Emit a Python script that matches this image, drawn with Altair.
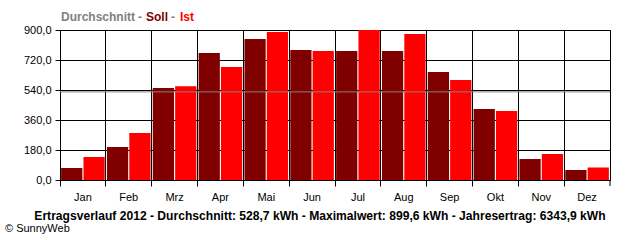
import altair as alt
import pandas as pd

months = ["Jan", "Feb", "Mrz", "Apr", "Mai", "Jun", "Jul", "Aug", "Sep", "Okt", "Nov", "Dez"]
soll = [72, 198, 552, 762, 846, 780, 774, 774, 648, 426, 126, 60]
ist = [138, 282, 563, 678, 888, 774, 899.6, 876, 600, 414, 156, 74.3]
average = 528.7
y_ticks = [0, 180, 360, 540, 720, 900]
series = ["Soll", "Ist"]
series_colors = ["#800000", "#FF0000"]

rows = []
for m, s, i in zip(months, soll, ist):
    rows.append({"Monat": m, "Serie": "Soll", "Wert": s})
    rows.append({"Monat": m, "Serie": "Ist", "Wert": i})
df = pd.DataFrame(rows)

FONT = "Liberation Sans"
W, H = 550, 150

yscale = alt.Scale(domain=[0, 900], nice=False)
yaxis = alt.Axis(title=None, values=y_ticks, grid=True, gridColor="black",
                 gridOpacity=1, tickColor="black", tickSize=5, labelPadding=4,
                 labelOverlap=False, labelBound=False, labelFlush=False,
                 domainColor="black", labelFont=FONT, labelFontSize=11,
                 labelColor="black",
                 labelExpr="replace(format(datum.value, '.1f'), '.', ',')")

bars = alt.Chart(df).mark_bar().encode(
    x=alt.X("Monat:N", sort=months,
            scale=alt.Scale(paddingInner=0, paddingOuter=0),
            axis=alt.Axis(title=None, bandPosition=0, grid=True, gridColor="black",
                          gridOpacity=1, tickColor="black", tickSize=6, labelPadding=5,
                          domainColor="black", labelAngle=0, labelFont=FONT,
                          labelFontSize=11, labelColor="black")),
    xOffset=alt.XOffset("Serie:N", sort=series,
                        scale=alt.Scale(paddingInner=0.05, paddingOuter=0.05)),
    y=alt.Y("Wert:Q", scale=yscale, axis=yaxis),
    color=alt.Color("Serie:N", sort=series,
                    scale=alt.Scale(domain=series, range=series_colors), legend=None),
)

avg_rule = alt.Chart(pd.DataFrame({"avg": [average]})).mark_rule(
    color="#808080", strokeWidth=1).encode(y=alt.Y("avg:Q", scale=yscale, axis=yaxis))

right_tick = alt.Chart(pd.DataFrame({"v": [0]})).mark_rule(color="black").encode(
    x=alt.value(W), y=alt.value(H), y2=alt.value(H + 6))

def txt(text, x, y, color, bold=True, align="left", size=12):
    return alt.Chart(pd.DataFrame({"v": [0]})).mark_text(
        text=text, font=FONT, fontSize=size, fontWeight="bold" if bold else "normal",
        color=color, align=align, baseline="middle").encode(
        x=alt.value(x), y=alt.value(y))

title_layers = [
    txt("Durchschnitt", 1, -13, "#808080"),
    txt("-", 78, -13, "#808080"),
    txt("Soll", 86, -13, "#800000"),
    txt("-", 111, -13, "#808080"),
    txt("Ist", 120, -13, "#FF0000"),
]
bottom = txt("Ertragsverlauf 2012 - Durchschnitt: 528,7 kWh - Maximalwert: 899,6 kWh - Jahresertrag: 6343,9 kWh",
             260, 186, "black", align="center", size=12.1)
copy = txt("© SunnyWeb", -55, 199, "black", bold=False, size=11)

chart = alt.layer(bars, avg_rule, right_tick, *title_layers, bottom, copy).properties(
    width=W, height=H,
    autosize=alt.AutoSizeParams(type="none"),
    padding={"left": 60, "top": 30, "right": 30, "bottom": 60},
    background="white",
).configure_view(stroke="black", strokeWidth=1)

chart.save("out.html", embed_options={"renderer": "svg", "actions": False})
